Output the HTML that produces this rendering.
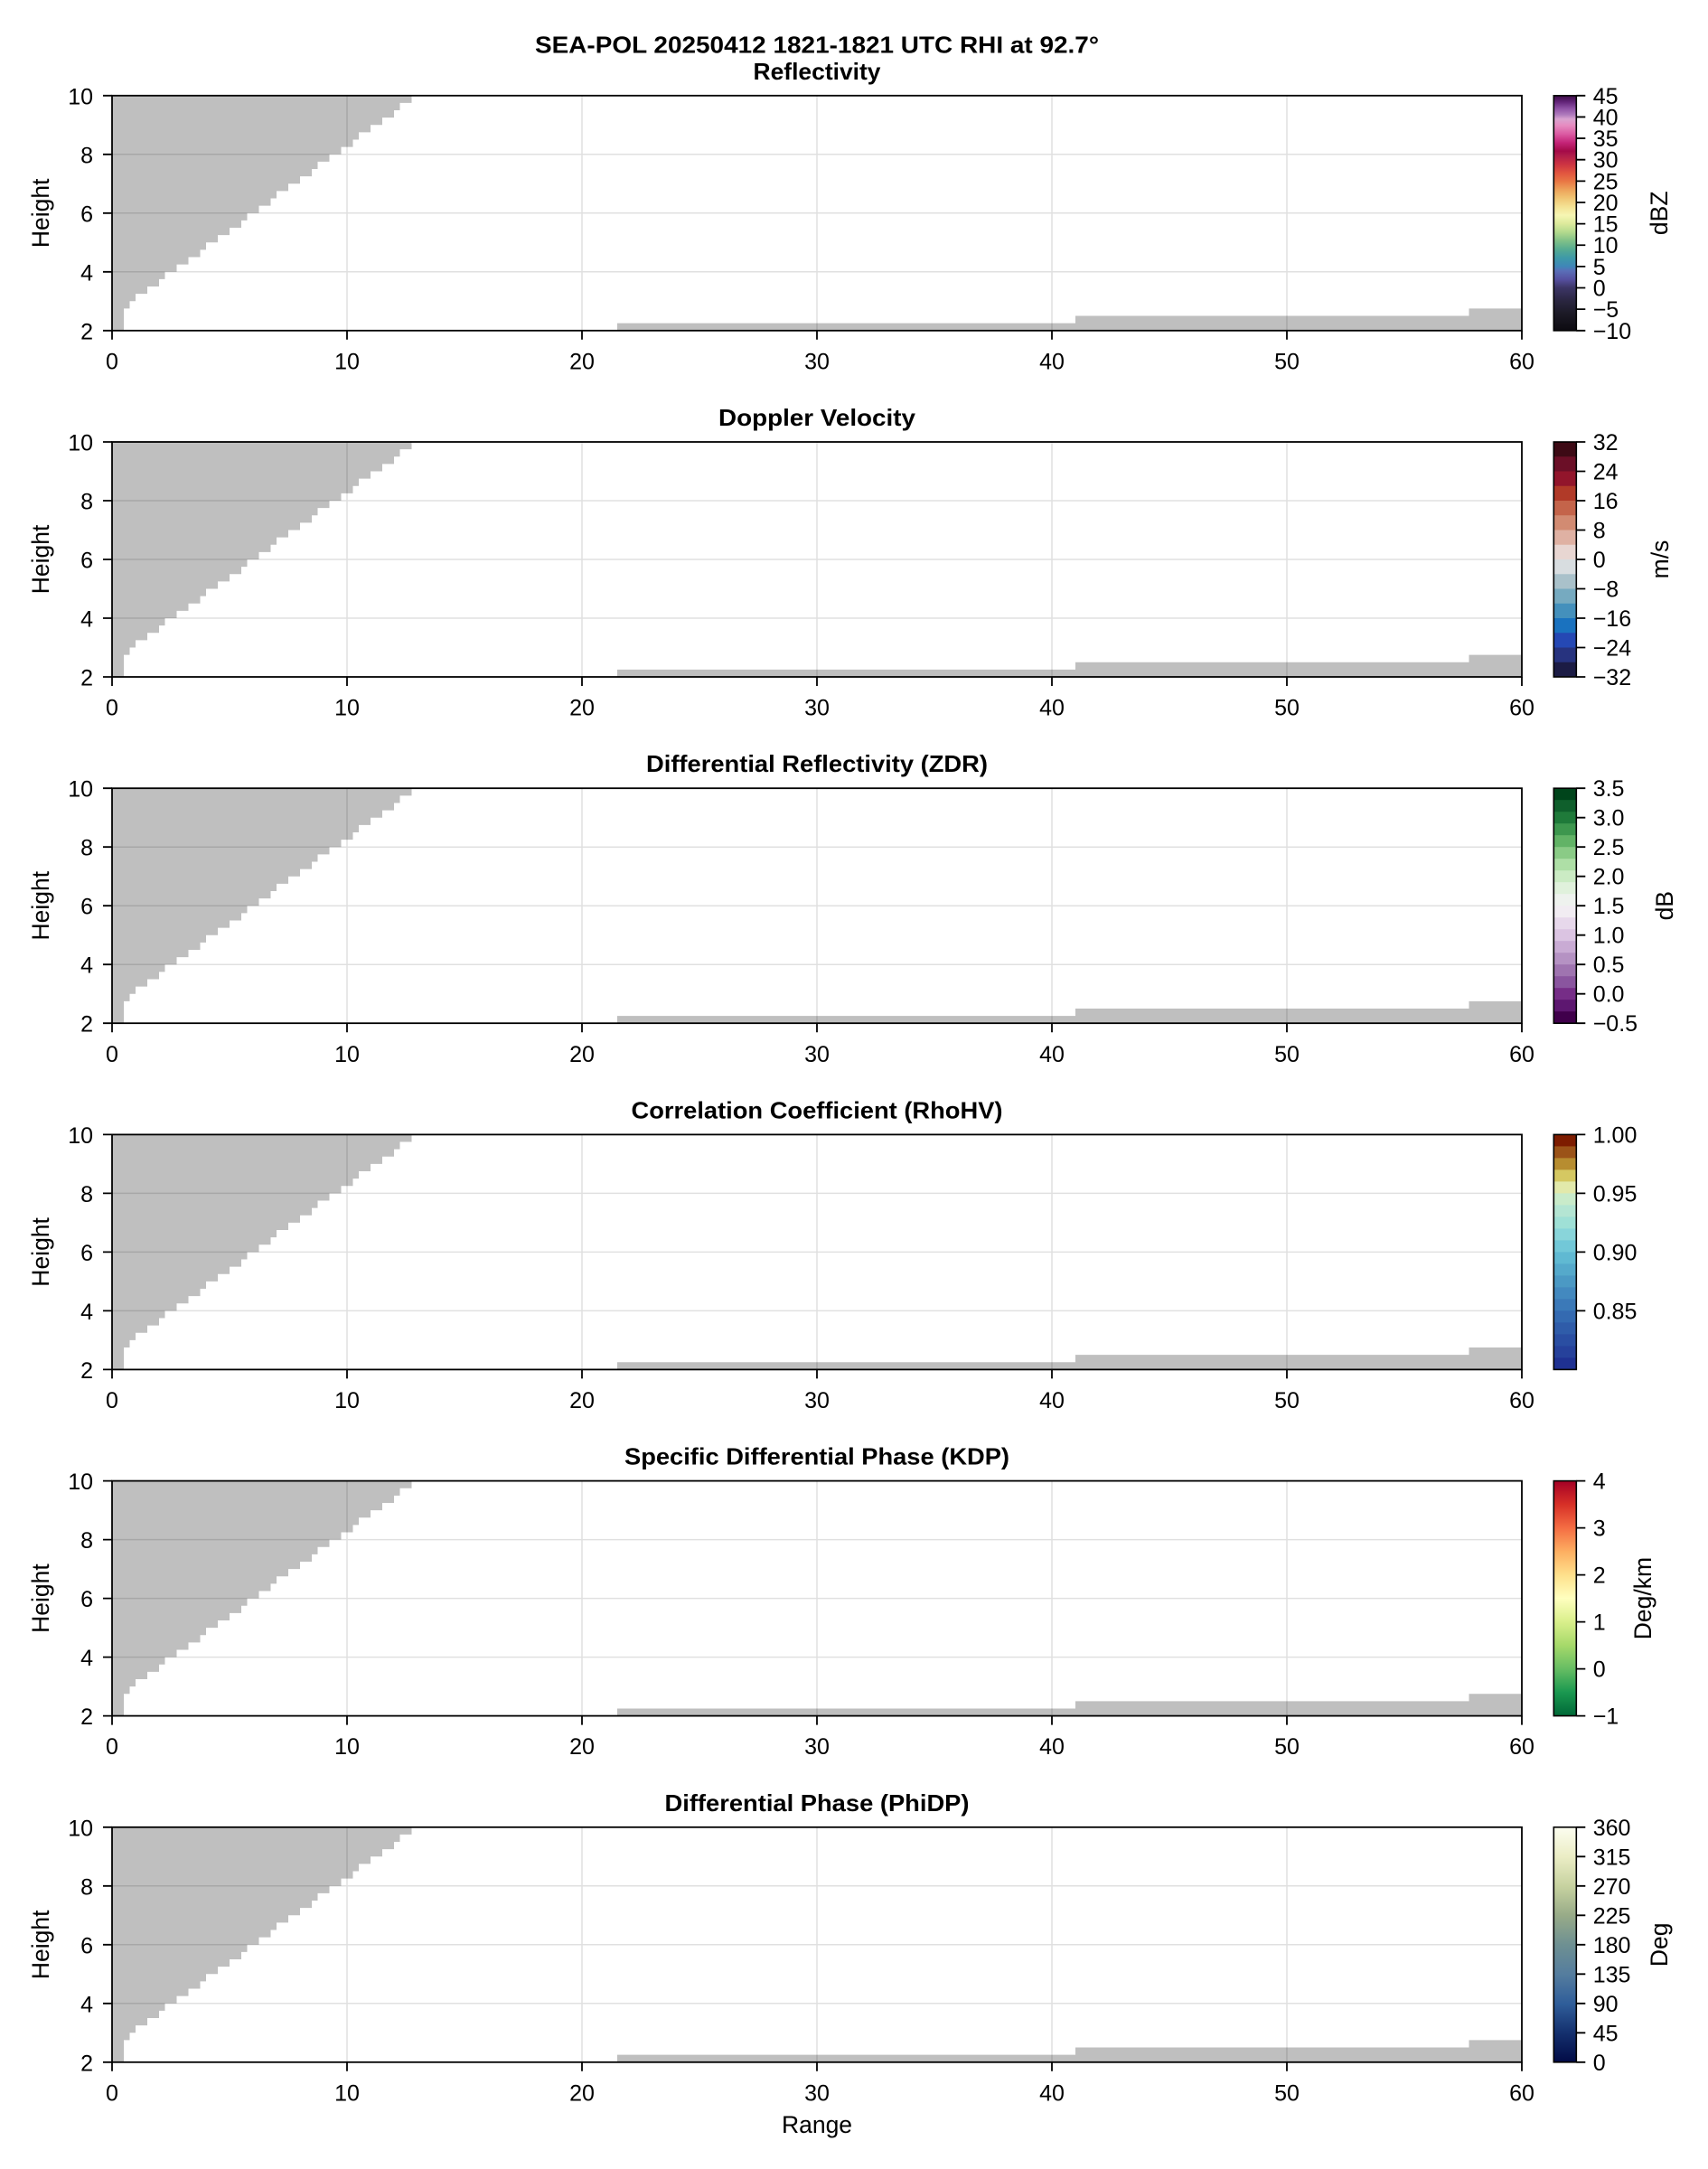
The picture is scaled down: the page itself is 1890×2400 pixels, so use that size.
<!DOCTYPE html>
<html>
<head>
<meta charset="utf-8">
<style>
html,body{margin:0;padding:0;background:#fff;}
svg{display:block;}
text{font-family:"Liberation Sans",Arial,sans-serif;fill:#000;}
.tl{font-size:25px;}
.lab{font-size:26.5px;}
.ttl{font-size:26px;font-weight:bold;}
.gray{fill:#bfbfbf;stroke:none;}
.grid{stroke:rgba(0,0,0,0.12);stroke-width:1.5;fill:none;}
.spine{fill:none;stroke:#000;stroke-width:1.8;}
.tick{stroke:#000;stroke-width:1.8;fill:none;}
.cbo{fill:none;stroke:#000;stroke-width:1.6;}
</style>
</head>
<body>
<svg width="1890" height="2400" viewBox="0 0 1890 2400" xmlns="http://www.w3.org/2000/svg">
<defs>
<linearGradient id="gRef" x1="0" y1="1" x2="0" y2="0">
<stop offset="0" stop-color="#0c0a10"/>
<stop offset="0.073" stop-color="#1c1a26"/>
<stop offset="0.127" stop-color="#2a2640"/>
<stop offset="0.182" stop-color="#3c3566"/>
<stop offset="0.218" stop-color="#5650a0"/>
<stop offset="0.255" stop-color="#5a6fb8"/>
<stop offset="0.273" stop-color="#3f86b8"/>
<stop offset="0.309" stop-color="#3e99a8"/>
<stop offset="0.345" stop-color="#55ab92"/>
<stop offset="0.382" stop-color="#80c088"/>
<stop offset="0.418" stop-color="#b2d98d"/>
<stop offset="0.455" stop-color="#dcea9c"/>
<stop offset="0.491" stop-color="#f6f6b3"/>
<stop offset="0.527" stop-color="#f4e294"/>
<stop offset="0.564" stop-color="#f0c573"/>
<stop offset="0.6" stop-color="#eda25a"/>
<stop offset="0.636" stop-color="#e97644"/>
<stop offset="0.673" stop-color="#e0533f"/>
<stop offset="0.709" stop-color="#cc3342"/>
<stop offset="0.745" stop-color="#b01c4a"/>
<stop offset="0.764" stop-color="#a40a48"/>
<stop offset="0.8" stop-color="#c42478"/>
<stop offset="0.836" stop-color="#db5aa2"/>
<stop offset="0.873" stop-color="#e68cc0"/>
<stop offset="0.9" stop-color="#d9a3d0"/>
<stop offset="0.918" stop-color="#b07cbd"/>
<stop offset="0.945" stop-color="#8f52a6"/>
<stop offset="0.973" stop-color="#632479"/>
<stop offset="1" stop-color="#3a0c44"/>
</linearGradient>
<linearGradient id="gKdp" x1="0" y1="1" x2="0" y2="0">
<stop offset="0" stop-color="#006837"/>
<stop offset="0.1" stop-color="#1a9850"/>
<stop offset="0.2" stop-color="#66bd63"/>
<stop offset="0.3" stop-color="#a6d96a"/>
<stop offset="0.4" stop-color="#d9ef8b"/>
<stop offset="0.5" stop-color="#ffffbf"/>
<stop offset="0.6" stop-color="#fee08b"/>
<stop offset="0.7" stop-color="#fdae61"/>
<stop offset="0.8" stop-color="#f46d43"/>
<stop offset="0.9" stop-color="#d73027"/>
<stop offset="1" stop-color="#a50026"/>
</linearGradient>
<linearGradient id="gPhi" x1="0" y1="1" x2="0" y2="0">
<stop offset="0" stop-color="#020b46"/>
<stop offset="0.125" stop-color="#14306e"/>
<stop offset="0.25" stop-color="#305e9a"/>
<stop offset="0.375" stop-color="#557d9e"/>
<stop offset="0.5" stop-color="#6e9092"/>
<stop offset="0.625" stop-color="#98ab88"/>
<stop offset="0.75" stop-color="#c7d2a0"/>
<stop offset="0.875" stop-color="#ebedc5"/>
<stop offset="1" stop-color="#fcfdf0"/>
</linearGradient>
</defs>

<rect x="0" y="0" width="1890" height="2400" fill="#fff"/>

<text class="ttl" x="904" y="58.3" text-anchor="middle" textLength="624" lengthAdjust="spacingAndGlyphs">SEA-POL 20250412 1821-1821 UTC RHI at 92.7°</text>

<!-- ============ PANEL 1 ============ -->
<g transform="translate(0,105.8)">
<path class="gray" d="M124,0 H455.5 V8.125 H442.5 V16.25 H436 V24.375 H423 V32.5 H410 V40.625 H397 V48.75 H390.5 V56.875 H377.5 V65 H364.5 V73.125 H351.5 V81.25 H345 V89.375 H332 V97.5 H319 V105.625 H306 V113.75 H299.5 V121.875 H286.5 V130 H273.5 V138.125 H267 V146.25 H254 V154.375 H241 V162.5 H228 V170.625 H221.5 V178.75 H208.5 V186.875 H195.5 V195 H182.5 V203.125 H176 V211.25 H163 V219.375 H150 V227.5 H143.5 V235.625 H137 V260 H124 Z"/>
<path class="gray" d="M683,260 V251.875 H1190 V243.75 H1625.5 V235.625 H1684 V260 Z"/>
<path class="grid" d="M384,0V260 M644,0V260 M904,0V260 M1164,0V260 M1424,0V260 M124,65H1684 M124,130H1684 M124,195H1684"/>
<rect class="spine" x="124" y="0" width="1560" height="260"/>
<path class="tick" d="M124,260v10 M384,260v10 M644,260v10 M904,260v10 M1164,260v10 M1424,260v10 M1684,260v10 M124,0h-10 M124,65h-10 M124,130h-10 M124,195h-10 M124,260h-10"/>
<g class="tl" text-anchor="middle">
<text x="124" y="302.6">0</text><text x="384" y="302.6">10</text><text x="644" y="302.6">20</text><text x="904" y="302.6">30</text><text x="1164" y="302.6">40</text><text x="1424" y="302.6">50</text><text x="1684" y="302.6">60</text>
</g>
<g class="tl" text-anchor="end">
<text x="103" y="9.5">10</text><text x="103" y="74.5">8</text><text x="103" y="139.5">6</text><text x="103" y="204.5">4</text><text x="103" y="269.5">2</text>
</g>
<text class="lab" transform="translate(54,130) rotate(-90)" text-anchor="middle">Height</text>
<text class="ttl" x="904" y="-18" text-anchor="middle" textLength="141" lengthAdjust="spacingAndGlyphs">Reflectivity</text>
<rect x="1719.3" y="0" width="25" height="260" fill="url(#gRef)"/>
<rect class="cbo" x="1719.3" y="0" width="25" height="260"/>
<path class="tick" d="M1744.3,0h10 M1744.3,23.64h10 M1744.3,47.27h10 M1744.3,70.91h10 M1744.3,94.55h10 M1744.3,118.18h10 M1744.3,141.82h10 M1744.3,165.45h10 M1744.3,189.09h10 M1744.3,212.73h10 M1744.3,236.36h10 M1744.3,260h10"/>
<g class="tl">
<text x="1762.7" y="9">45</text><text x="1762.7" y="32.64">40</text><text x="1762.7" y="56.27">35</text><text x="1762.7" y="79.91">30</text><text x="1762.7" y="103.55">25</text><text x="1762.7" y="127.18">20</text><text x="1762.7" y="150.82">15</text><text x="1762.7" y="174.45">10</text><text x="1762.7" y="198.09">5</text><text x="1762.7" y="221.73">0</text><text x="1762.7" y="245.36">−5</text><text x="1762.7" y="269">−10</text>
</g>
<text class="lab" transform="translate(1845,130) rotate(-90)" text-anchor="middle">dBZ</text>
</g>

<!-- ============ PANEL 2 ============ -->
<g transform="translate(0,489)">
<path class="gray" d="M124,0 H455.5 V8.125 H442.5 V16.25 H436 V24.375 H423 V32.5 H410 V40.625 H397 V48.75 H390.5 V56.875 H377.5 V65 H364.5 V73.125 H351.5 V81.25 H345 V89.375 H332 V97.5 H319 V105.625 H306 V113.75 H299.5 V121.875 H286.5 V130 H273.5 V138.125 H267 V146.25 H254 V154.375 H241 V162.5 H228 V170.625 H221.5 V178.75 H208.5 V186.875 H195.5 V195 H182.5 V203.125 H176 V211.25 H163 V219.375 H150 V227.5 H143.5 V235.625 H137 V260 H124 Z"/>
<path class="gray" d="M683,260 V251.875 H1190 V243.75 H1625.5 V235.625 H1684 V260 Z"/>
<path class="grid" d="M384,0V260 M644,0V260 M904,0V260 M1164,0V260 M1424,0V260 M124,65H1684 M124,130H1684 M124,195H1684"/>
<rect class="spine" x="124" y="0" width="1560" height="260"/>
<path class="tick" d="M124,260v10 M384,260v10 M644,260v10 M904,260v10 M1164,260v10 M1424,260v10 M1684,260v10 M124,0h-10 M124,65h-10 M124,130h-10 M124,195h-10 M124,260h-10"/>
<g class="tl" text-anchor="middle">
<text x="124" y="302.6">0</text><text x="384" y="302.6">10</text><text x="644" y="302.6">20</text><text x="904" y="302.6">30</text><text x="1164" y="302.6">40</text><text x="1424" y="302.6">50</text><text x="1684" y="302.6">60</text>
</g>
<g class="tl" text-anchor="end">
<text x="103" y="9.5">10</text><text x="103" y="74.5">8</text><text x="103" y="139.5">6</text><text x="103" y="204.5">4</text><text x="103" y="269.5">2</text>
</g>
<text class="lab" transform="translate(54,130) rotate(-90)" text-anchor="middle">Height</text>
<text class="ttl" x="904" y="-18" text-anchor="middle" textLength="218" lengthAdjust="spacingAndGlyphs">Doppler Velocity</text>
<g>
<rect x="1719.3" y="0" width="25" height="16.75" fill="#3d0a15"/>
<rect x="1719.3" y="16.25" width="25" height="16.75" fill="#6b0f27"/>
<rect x="1719.3" y="32.5" width="25" height="16.75" fill="#92152b"/>
<rect x="1719.3" y="48.75" width="25" height="16.75" fill="#b13a28"/>
<rect x="1719.3" y="65" width="25" height="16.75" fill="#c4644a"/>
<rect x="1719.3" y="81.25" width="25" height="16.75" fill="#d28b72"/>
<rect x="1719.3" y="97.5" width="25" height="16.75" fill="#dfb1a3"/>
<rect x="1719.3" y="113.75" width="25" height="16.75" fill="#e8d6d2"/>
<rect x="1719.3" y="130" width="25" height="16.75" fill="#d8dde0"/>
<rect x="1719.3" y="146.25" width="25" height="16.75" fill="#a9c1ca"/>
<rect x="1719.3" y="162.5" width="25" height="16.75" fill="#76aac0"/>
<rect x="1719.3" y="178.75" width="25" height="16.75" fill="#4490bc"/>
<rect x="1719.3" y="195" width="25" height="16.75" fill="#1a72bf"/>
<rect x="1719.3" y="211.25" width="25" height="16.75" fill="#2548b4"/>
<rect x="1719.3" y="227.5" width="25" height="16.75" fill="#27337f"/>
<rect x="1719.3" y="243.75" width="25" height="16.25" fill="#1c1c45"/>
</g>
<rect class="cbo" x="1719.3" y="0" width="25" height="260"/>
<path class="tick" d="M1744.3,0h10 M1744.3,32.5h10 M1744.3,65h10 M1744.3,97.5h10 M1744.3,130h10 M1744.3,162.5h10 M1744.3,195h10 M1744.3,227.5h10 M1744.3,260h10"/>
<g class="tl">
<text x="1762.7" y="9">32</text><text x="1762.7" y="41.5">24</text><text x="1762.7" y="74">16</text><text x="1762.7" y="106.5">8</text><text x="1762.7" y="139">0</text><text x="1762.7" y="171.5">−8</text><text x="1762.7" y="204">−16</text><text x="1762.7" y="236.5">−24</text><text x="1762.7" y="269">−32</text>
</g>
<text class="lab" transform="translate(1846,130) rotate(-90)" text-anchor="middle">m/s</text>
</g>

<!-- ============ PANEL 3 ============ -->
<g transform="translate(0,872.2)">
<path class="gray" d="M124,0 H455.5 V8.125 H442.5 V16.25 H436 V24.375 H423 V32.5 H410 V40.625 H397 V48.75 H390.5 V56.875 H377.5 V65 H364.5 V73.125 H351.5 V81.25 H345 V89.375 H332 V97.5 H319 V105.625 H306 V113.75 H299.5 V121.875 H286.5 V130 H273.5 V138.125 H267 V146.25 H254 V154.375 H241 V162.5 H228 V170.625 H221.5 V178.75 H208.5 V186.875 H195.5 V195 H182.5 V203.125 H176 V211.25 H163 V219.375 H150 V227.5 H143.5 V235.625 H137 V260 H124 Z"/>
<path class="gray" d="M683,260 V251.875 H1190 V243.75 H1625.5 V235.625 H1684 V260 Z"/>
<path class="grid" d="M384,0V260 M644,0V260 M904,0V260 M1164,0V260 M1424,0V260 M124,65H1684 M124,130H1684 M124,195H1684"/>
<rect class="spine" x="124" y="0" width="1560" height="260"/>
<path class="tick" d="M124,260v10 M384,260v10 M644,260v10 M904,260v10 M1164,260v10 M1424,260v10 M1684,260v10 M124,0h-10 M124,65h-10 M124,130h-10 M124,195h-10 M124,260h-10"/>
<g class="tl" text-anchor="middle">
<text x="124" y="302.6">0</text><text x="384" y="302.6">10</text><text x="644" y="302.6">20</text><text x="904" y="302.6">30</text><text x="1164" y="302.6">40</text><text x="1424" y="302.6">50</text><text x="1684" y="302.6">60</text>
</g>
<g class="tl" text-anchor="end">
<text x="103" y="9.5">10</text><text x="103" y="74.5">8</text><text x="103" y="139.5">6</text><text x="103" y="204.5">4</text><text x="103" y="269.5">2</text>
</g>
<text class="lab" transform="translate(54,130) rotate(-90)" text-anchor="middle">Height</text>
<text class="ttl" x="904" y="-18" text-anchor="middle" textLength="378" lengthAdjust="spacingAndGlyphs">Differential Reflectivity (ZDR)</text>
<g>
<rect x="1719.3" y="0" width="25" height="13.5" fill="#00441b"/>
<rect x="1719.3" y="13" width="25" height="13.5" fill="#0f5f2c"/>
<rect x="1719.3" y="26" width="25" height="13.5" fill="#1f7a3a"/>
<rect x="1719.3" y="39" width="25" height="13.5" fill="#3d974e"/>
<rect x="1719.3" y="52" width="25" height="13.5" fill="#62b366"/>
<rect x="1719.3" y="65" width="25" height="13.5" fill="#8acb86"/>
<rect x="1719.3" y="78" width="25" height="13.5" fill="#aedfa6"/>
<rect x="1719.3" y="91" width="25" height="13.5" fill="#cbebc4"/>
<rect x="1719.3" y="104" width="25" height="13.5" fill="#e0f1dc"/>
<rect x="1719.3" y="117" width="25" height="13.5" fill="#eef2ee"/>
<rect x="1719.3" y="130" width="25" height="13.5" fill="#f1ecf2"/>
<rect x="1719.3" y="143" width="25" height="13.5" fill="#e7d8eb"/>
<rect x="1719.3" y="156" width="25" height="13.5" fill="#dbc4e2"/>
<rect x="1719.3" y="169" width="25" height="13.5" fill="#c9abd4"/>
<rect x="1719.3" y="182" width="25" height="13.5" fill="#b592c3"/>
<rect x="1719.3" y="195" width="25" height="13.5" fill="#9f74b0"/>
<rect x="1719.3" y="208" width="25" height="13.5" fill="#8a559f"/>
<rect x="1719.3" y="221" width="25" height="13.5" fill="#762d87"/>
<rect x="1719.3" y="234" width="25" height="13.5" fill="#5d1770"/>
<rect x="1719.3" y="247" width="25" height="13" fill="#40004b"/>
</g>
<rect class="cbo" x="1719.3" y="0" width="25" height="260"/>
<path class="tick" d="M1744.3,0h10 M1744.3,32.5h10 M1744.3,65h10 M1744.3,97.5h10 M1744.3,130h10 M1744.3,162.5h10 M1744.3,195h10 M1744.3,227.5h10 M1744.3,260h10"/>
<g class="tl">
<text x="1762.7" y="9">3.5</text><text x="1762.7" y="41.5">3.0</text><text x="1762.7" y="74">2.5</text><text x="1762.7" y="106.5">2.0</text><text x="1762.7" y="139">1.5</text><text x="1762.7" y="171.5">1.0</text><text x="1762.7" y="204">0.5</text><text x="1762.7" y="236.5">0.0</text><text x="1762.7" y="269">−0.5</text>
</g>
<text class="lab" transform="translate(1851,130) rotate(-90)" text-anchor="middle">dB</text>
</g>

<!-- ============ PANEL 4 ============ -->
<g transform="translate(0,1255.4)">
<path class="gray" d="M124,0 H455.5 V8.125 H442.5 V16.25 H436 V24.375 H423 V32.5 H410 V40.625 H397 V48.75 H390.5 V56.875 H377.5 V65 H364.5 V73.125 H351.5 V81.25 H345 V89.375 H332 V97.5 H319 V105.625 H306 V113.75 H299.5 V121.875 H286.5 V130 H273.5 V138.125 H267 V146.25 H254 V154.375 H241 V162.5 H228 V170.625 H221.5 V178.75 H208.5 V186.875 H195.5 V195 H182.5 V203.125 H176 V211.25 H163 V219.375 H150 V227.5 H143.5 V235.625 H137 V260 H124 Z"/>
<path class="gray" d="M683,260 V251.875 H1190 V243.75 H1625.5 V235.625 H1684 V260 Z"/>
<path class="grid" d="M384,0V260 M644,0V260 M904,0V260 M1164,0V260 M1424,0V260 M124,65H1684 M124,130H1684 M124,195H1684"/>
<rect class="spine" x="124" y="0" width="1560" height="260"/>
<path class="tick" d="M124,260v10 M384,260v10 M644,260v10 M904,260v10 M1164,260v10 M1424,260v10 M1684,260v10 M124,0h-10 M124,65h-10 M124,130h-10 M124,195h-10 M124,260h-10"/>
<g class="tl" text-anchor="middle">
<text x="124" y="302.6">0</text><text x="384" y="302.6">10</text><text x="644" y="302.6">20</text><text x="904" y="302.6">30</text><text x="1164" y="302.6">40</text><text x="1424" y="302.6">50</text><text x="1684" y="302.6">60</text>
</g>
<g class="tl" text-anchor="end">
<text x="103" y="9.5">10</text><text x="103" y="74.5">8</text><text x="103" y="139.5">6</text><text x="103" y="204.5">4</text><text x="103" y="269.5">2</text>
</g>
<text class="lab" transform="translate(54,130) rotate(-90)" text-anchor="middle">Height</text>
<text class="ttl" x="904" y="-18" text-anchor="middle" textLength="411" lengthAdjust="spacingAndGlyphs">Correlation Coefficient (RhoHV)</text>
<g>
<rect x="1719.3" y="0" width="25" height="13.5" fill="#7d1c00"/>
<rect x="1719.3" y="13" width="25" height="13.5" fill="#9b5318"/>
<rect x="1719.3" y="26" width="25" height="13.5" fill="#b78d30"/>
<rect x="1719.3" y="39" width="25" height="13.5" fill="#d5c862"/>
<rect x="1719.3" y="52" width="25" height="13.5" fill="#e2e9ab"/>
<rect x="1719.3" y="65" width="25" height="13.5" fill="#c9ebca"/>
<rect x="1719.3" y="78" width="25" height="13.5" fill="#b4e5d3"/>
<rect x="1719.3" y="91" width="25" height="13.5" fill="#9fe0d6"/>
<rect x="1719.3" y="104" width="25" height="13.5" fill="#89d5da"/>
<rect x="1719.3" y="117" width="25" height="13.5" fill="#72c8d8"/>
<rect x="1719.3" y="130" width="25" height="13.5" fill="#60b9d2"/>
<rect x="1719.3" y="143" width="25" height="13.5" fill="#55a9cb"/>
<rect x="1719.3" y="156" width="25" height="13.5" fill="#4b99c4"/>
<rect x="1719.3" y="169" width="25" height="13.5" fill="#4389bf"/>
<rect x="1719.3" y="182" width="25" height="13.5" fill="#3b79b8"/>
<rect x="1719.3" y="195" width="25" height="13.5" fill="#346ab1"/>
<rect x="1719.3" y="208" width="25" height="13.5" fill="#2f5ca9"/>
<rect x="1719.3" y="221" width="25" height="13.5" fill="#2a4ea2"/>
<rect x="1719.3" y="234" width="25" height="13.5" fill="#26419b"/>
<rect x="1719.3" y="247" width="25" height="13" fill="#1f3192"/>
</g>
<rect class="cbo" x="1719.3" y="0" width="25" height="260"/>
<path class="tick" d="M1744.3,0h10 M1744.3,65h10 M1744.3,130h10 M1744.3,195h10"/>
<g class="tl">
<text x="1762.7" y="9">1.00</text><text x="1762.7" y="74">0.95</text><text x="1762.7" y="139">0.90</text><text x="1762.7" y="204">0.85</text>
</g>
</g>

<!-- ============ PANEL 5 ============ -->
<g transform="translate(0,1638.6)">
<path class="gray" d="M124,0 H455.5 V8.125 H442.5 V16.25 H436 V24.375 H423 V32.5 H410 V40.625 H397 V48.75 H390.5 V56.875 H377.5 V65 H364.5 V73.125 H351.5 V81.25 H345 V89.375 H332 V97.5 H319 V105.625 H306 V113.75 H299.5 V121.875 H286.5 V130 H273.5 V138.125 H267 V146.25 H254 V154.375 H241 V162.5 H228 V170.625 H221.5 V178.75 H208.5 V186.875 H195.5 V195 H182.5 V203.125 H176 V211.25 H163 V219.375 H150 V227.5 H143.5 V235.625 H137 V260 H124 Z"/>
<path class="gray" d="M683,260 V251.875 H1190 V243.75 H1625.5 V235.625 H1684 V260 Z"/>
<path class="grid" d="M384,0V260 M644,0V260 M904,0V260 M1164,0V260 M1424,0V260 M124,65H1684 M124,130H1684 M124,195H1684"/>
<rect class="spine" x="124" y="0" width="1560" height="260"/>
<path class="tick" d="M124,260v10 M384,260v10 M644,260v10 M904,260v10 M1164,260v10 M1424,260v10 M1684,260v10 M124,0h-10 M124,65h-10 M124,130h-10 M124,195h-10 M124,260h-10"/>
<g class="tl" text-anchor="middle">
<text x="124" y="302.6">0</text><text x="384" y="302.6">10</text><text x="644" y="302.6">20</text><text x="904" y="302.6">30</text><text x="1164" y="302.6">40</text><text x="1424" y="302.6">50</text><text x="1684" y="302.6">60</text>
</g>
<g class="tl" text-anchor="end">
<text x="103" y="9.5">10</text><text x="103" y="74.5">8</text><text x="103" y="139.5">6</text><text x="103" y="204.5">4</text><text x="103" y="269.5">2</text>
</g>
<text class="lab" transform="translate(54,130) rotate(-90)" text-anchor="middle">Height</text>
<text class="ttl" x="904" y="-18" text-anchor="middle" textLength="426" lengthAdjust="spacingAndGlyphs">Specific Differential Phase (KDP)</text>
<rect x="1719.3" y="0" width="25" height="260" fill="url(#gKdp)"/>
<rect class="cbo" x="1719.3" y="0" width="25" height="260"/>
<path class="tick" d="M1744.3,0h10 M1744.3,52h10 M1744.3,104h10 M1744.3,156h10 M1744.3,208h10 M1744.3,260h10"/>
<g class="tl">
<text x="1762.7" y="9">4</text><text x="1762.7" y="61">3</text><text x="1762.7" y="113">2</text><text x="1762.7" y="165">1</text><text x="1762.7" y="217">0</text><text x="1762.7" y="269">−1</text>
</g>
<text class="lab" transform="translate(1827,130) rotate(-90)" text-anchor="middle">Deg/km</text>
</g>

<!-- ============ PANEL 6 ============ -->
<g transform="translate(0,2021.8)">
<path class="gray" d="M124,0 H455.5 V8.125 H442.5 V16.25 H436 V24.375 H423 V32.5 H410 V40.625 H397 V48.75 H390.5 V56.875 H377.5 V65 H364.5 V73.125 H351.5 V81.25 H345 V89.375 H332 V97.5 H319 V105.625 H306 V113.75 H299.5 V121.875 H286.5 V130 H273.5 V138.125 H267 V146.25 H254 V154.375 H241 V162.5 H228 V170.625 H221.5 V178.75 H208.5 V186.875 H195.5 V195 H182.5 V203.125 H176 V211.25 H163 V219.375 H150 V227.5 H143.5 V235.625 H137 V260 H124 Z"/>
<path class="gray" d="M683,260 V251.875 H1190 V243.75 H1625.5 V235.625 H1684 V260 Z"/>
<path class="grid" d="M384,0V260 M644,0V260 M904,0V260 M1164,0V260 M1424,0V260 M124,65H1684 M124,130H1684 M124,195H1684"/>
<rect class="spine" x="124" y="0" width="1560" height="260"/>
<path class="tick" d="M124,260v10 M384,260v10 M644,260v10 M904,260v10 M1164,260v10 M1424,260v10 M1684,260v10 M124,0h-10 M124,65h-10 M124,130h-10 M124,195h-10 M124,260h-10"/>
<g class="tl" text-anchor="middle">
<text x="124" y="302.6">0</text><text x="384" y="302.6">10</text><text x="644" y="302.6">20</text><text x="904" y="302.6">30</text><text x="1164" y="302.6">40</text><text x="1424" y="302.6">50</text><text x="1684" y="302.6">60</text>
</g>
<g class="tl" text-anchor="end">
<text x="103" y="9.5">10</text><text x="103" y="74.5">8</text><text x="103" y="139.5">6</text><text x="103" y="204.5">4</text><text x="103" y="269.5">2</text>
</g>
<text class="lab" transform="translate(54,130) rotate(-90)" text-anchor="middle">Height</text>
<text class="ttl" x="904" y="-18" text-anchor="middle" textLength="337" lengthAdjust="spacingAndGlyphs">Differential Phase (PhiDP)</text>
<rect x="1719.3" y="0" width="25" height="260" fill="url(#gPhi)"/>
<rect class="cbo" x="1719.3" y="0" width="25" height="260"/>
<path class="tick" d="M1744.3,0h10 M1744.3,32.5h10 M1744.3,65h10 M1744.3,97.5h10 M1744.3,130h10 M1744.3,162.5h10 M1744.3,195h10 M1744.3,227.5h10 M1744.3,260h10"/>
<g class="tl">
<text x="1762.7" y="9">360</text><text x="1762.7" y="41.5">315</text><text x="1762.7" y="74">270</text><text x="1762.7" y="106.5">225</text><text x="1762.7" y="139">180</text><text x="1762.7" y="171.5">135</text><text x="1762.7" y="204">90</text><text x="1762.7" y="236.5">45</text><text x="1762.7" y="269">0</text>
</g>
<text class="lab" transform="translate(1845,130) rotate(-90)" text-anchor="middle">Deg</text>
</g>

<text class="lab" x="904" y="2360" text-anchor="middle">Range</text>
</svg>
</body>
</html>
